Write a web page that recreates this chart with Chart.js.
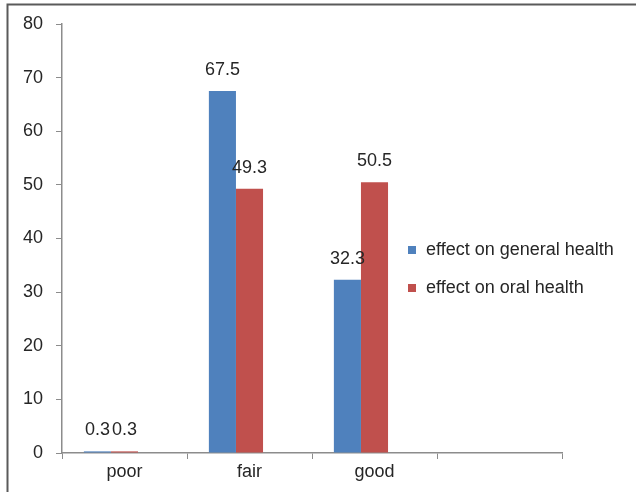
<!DOCTYPE html>
<html>
<head>
<meta charset="utf-8">
<script src="https://cdn.jsdelivr.net/npm/chart.js@4"></script>
<style>
html,body{margin:0;padding:0;background:#fff;}
canvas{display:block;}
</style>
</head>
<body>
<canvas id="c" width="636" height="492"></canvas>
<script>
const categories = ['poor', 'fair', 'good', ''];
const generalHealth = [0.3, 67.5, 32.3, null];
const oralHealth = [0.3, 49.3, 50.5, null];
const spacerSeries = [null, null, null, null];
const seriesNames = ['effect on general health', 'effect on oral health'];
const seriesColors = ['#4F81BD', '#C0504D'];
const yTicks = [0, 10, 20, 30, 40, 50, 60, 70, 80];

const FONT = '"Liberation Sans", Arial, sans-serif';
const TEXT = '#262626';
const AXIS = '#8c8c8c';

const framePlugin = {
  id: 'frame',
  beforeDraw(chart) {
    const ctx = chart.ctx;
    ctx.save();
    ctx.fillStyle = '#fff';
    ctx.fillRect(0, 0, chart.width, chart.height);
    ctx.strokeStyle = '#5a5a5a';
    ctx.lineWidth = 2;
    ctx.beginPath();
    ctx.moveTo(7.5, chart.height);
    ctx.lineTo(7.5, 4.5);
    ctx.lineTo(chart.width, 4.5);
    ctx.stroke();
    ctx.restore();
  }
};

const labelPlugin = {
  id: 'barLabels',
  afterDatasetsDraw(chart) {
    const ctx = chart.ctx;
    ctx.save();
    ctx.font = '18px ' + FONT;
    ctx.fillStyle = TEXT;
    ctx.textAlign = 'center';
    ctx.textBaseline = 'middle';
    chart.data.datasets.forEach((ds, i) => {
      if (!ds.label) return;
      const meta = chart.getDatasetMeta(i);
      meta.data.forEach((bar, j) => {
        const v = ds.data[j];
        if (v === null || v === undefined) return;
        ctx.fillText(String(v), bar.x, bar.y - 21);
      });
    });
    ctx.restore();
  }
};

const legendPlugin = {
  id: 'innerLegend',
  afterDraw(chart) {
    const ctx = chart.ctx;
    ctx.save();
    ctx.font = '18px ' + FONT;
    ctx.textBaseline = 'middle';
    ctx.textAlign = 'left';
    const x0 = 408, y0 = 250, gap = 38;
    chart.data.datasets.forEach((ds, i) => {
      if (!ds.label) return;
      const y = y0 + i * gap;
      ctx.fillStyle = ds.backgroundColor;
      ctx.fillRect(x0, y - 4, 8, 8);
      ctx.fillStyle = TEXT;
      ctx.fillText(ds.label, x0 + 18, y);
    });
    ctx.restore();
  }
};

new Chart(document.getElementById('c'), {
  type: 'bar',
  data: {
    labels: categories,
    datasets: [
      { label: seriesNames[0], data: generalHealth, backgroundColor: seriesColors[0] },
      { label: seriesNames[1], data: oralHealth, backgroundColor: seriesColors[1] },
      { label: '', data: spacerSeries, backgroundColor: 'rgba(0,0,0,0)' }
    ]
  },
  options: {
    responsive: false,
    animation: false,
    devicePixelRatio: 1,
    datasets: { bar: { barPercentage: 1.0, categoryPercentage: 0.65 } },
    layout: { padding: { left: 0, top: 24, right: 74, bottom: 0 } },
    plugins: { legend: { display: false }, tooltip: { enabled: false } },
    scales: {
      x: {
        grid: { display: true, drawOnChartArea: false, offset: true, color: AXIS, tickLength: 6, tickWidth: 1 },
        border: { color: AXIS, width: 1.5 },
        ticks: { color: TEXT, font: { family: FONT, size: 18 }, padding: 2, maxRotation: 0 },
        afterFit(scale) { scale.height = 39; }
      },
      y: {
        min: 0, max: 80,
        afterBuildTicks(scale) { scale.ticks = yTicks.map(v => ({ value: v })); },
        grid: { display: true, drawOnChartArea: false, color: AXIS, tickLength: 6, tickWidth: 1 },
        border: { color: AXIS, width: 1.5 },
        ticks: { color: TEXT, font: { family: FONT, size: 18 }, padding: 13 },
        afterFit(scale) { scale.width = 62; }
      }
    }
  },
  plugins: [framePlugin, labelPlugin, legendPlugin]
});
</script>
</body>
</html>
